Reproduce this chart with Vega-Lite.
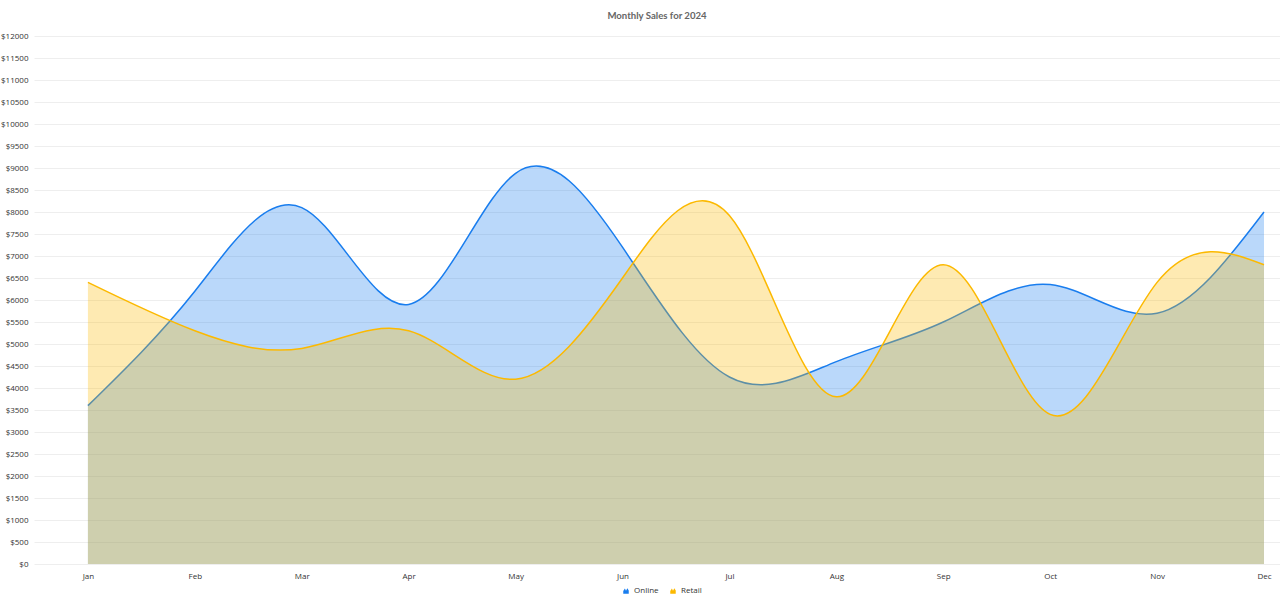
{
  "$schema": "https://vega.github.io/schema/vega-lite/v6.json",
  "width": 1246,
  "height": 528,
  "autosize": {"type": "none"},
  "padding": {"left": 34, "top": 36, "right": 0, "bottom": 41},
  "background": "white",
  "title": {
    "text": "Monthly Sales for 2024",
    "font": "Lato",
    "fontSize": 9.6,
    "fontWeight": "bold",
    "color": "#666666",
    "anchor": "middle",
    "frame": "group",
    "offset": 11
  },
  "data": {
    "values": [
      {"month": "Jan", "series": "Online", "sales": 3600},
      {"month": "Feb", "series": "Online", "sales": 6200},
      {"month": "Mar", "series": "Online", "sales": 8100},
      {"month": "Apr", "series": "Online", "sales": 5900},
      {"month": "May", "series": "Online", "sales": 8880},
      {"month": "Jun", "series": "Online", "sales": 7200},
      {"month": "Jul", "series": "Online", "sales": 4250},
      {"month": "Aug", "series": "Online", "sales": 4600},
      {"month": "Sep", "series": "Online", "sales": 5500},
      {"month": "Oct", "series": "Online", "sales": 6350},
      {"month": "Nov", "series": "Online", "sales": 5700},
      {"month": "Dec", "series": "Online", "sales": 8000},
      {"month": "Jan", "series": "Retail", "sales": 6400},
      {"month": "Feb", "series": "Retail", "sales": 5300},
      {"month": "Mar", "series": "Retail", "sales": 4900},
      {"month": "Apr", "series": "Retail", "sales": 5300},
      {"month": "May", "series": "Retail", "sales": 4200},
      {"month": "Jun", "series": "Retail", "sales": 6500},
      {"month": "Jul", "series": "Retail", "sales": 7920},
      {"month": "Aug", "series": "Retail", "sales": 3800},
      {"month": "Sep", "series": "Retail", "sales": 6800},
      {"month": "Oct", "series": "Retail", "sales": 3400},
      {"month": "Nov", "series": "Retail", "sales": 6400},
      {"month": "Dec", "series": "Retail", "sales": 6800}
    ]
  },
  "encoding": {
    "x": {
      "field": "month",
      "type": "ordinal",
      "sort": null,
      "scale": {"type": "point", "padding": 0.327, "align": 0.771},
      "axis": {
        "title": null,
        "domain": false,
        "ticks": false,
        "grid": false,
        "labelAngle": 0,
        "labelPadding": 8
      }
    },
    "y": {
      "field": "sales",
      "type": "quantitative",
      "scale": {"domain": [0, 12000], "nice": false},
      "axis": {
        "title": null,
        "domain": false,
        "ticks": false,
        "labelPadding": 6,
        "gridColor": "#eeeeee",
        "values": [0, 500, 1000, 1500, 2000, 2500, 3000, 3500, 4000, 4500, 5000, 5500, 6000, 6500, 7000, 7500, 8000, 8500, 9000, 9500, 10000, 10500, 11000, 11500, 12000],
        "labelExpr": "'$' + datum.value"
      }
    },
    "color": {
      "field": "series",
      "type": "nominal",
      "scale": {"domain": ["Online", "Retail"], "range": ["#197DEE", "#FCB900"]},
      "legend": {
        "title": null,
        "orient": "none",
        "direction": "horizontal",
        "legendX": 588,
        "legendY": 551,
        "labelFontSize": 8,
        "labelColor": "#333333",
        "labelFont": "Open Sans",
        "symbolType": "M-1,1 L-1,0 L-0.4,-0.9 L0,-0.1 L0.5,-1 L1,-0.2 L1,1 Z",
        "symbolSize": 30,
        "symbolOpacity": 1,
        "symbolStrokeWidth": 0,
        "columnPadding": 10
      }
    }
  },
  "layer": [
    {
      "transform": [{"filter": "datum.series === 'Online'"}],
      "mark": {"type": "area", "interpolate": "natural", "fillOpacity": 0.3}
    },
    {
      "transform": [{"filter": "datum.series === 'Online'"}],
      "mark": {"type": "line", "interpolate": "natural", "strokeWidth": 1.5}
    },
    {
      "transform": [{"filter": "datum.series === 'Retail'"}],
      "mark": {"type": "area", "interpolate": "natural", "fillOpacity": 0.3}
    },
    {
      "transform": [{"filter": "datum.series === 'Retail'"}],
      "mark": {"type": "line", "interpolate": "natural", "strokeWidth": 1.5}
    }
  ],
  "config": {
    "view": {"stroke": null},
    "axis": {"labelFont": "Open Sans", "labelFontSize": 8, "labelColor": "#333333"}
  }
}
